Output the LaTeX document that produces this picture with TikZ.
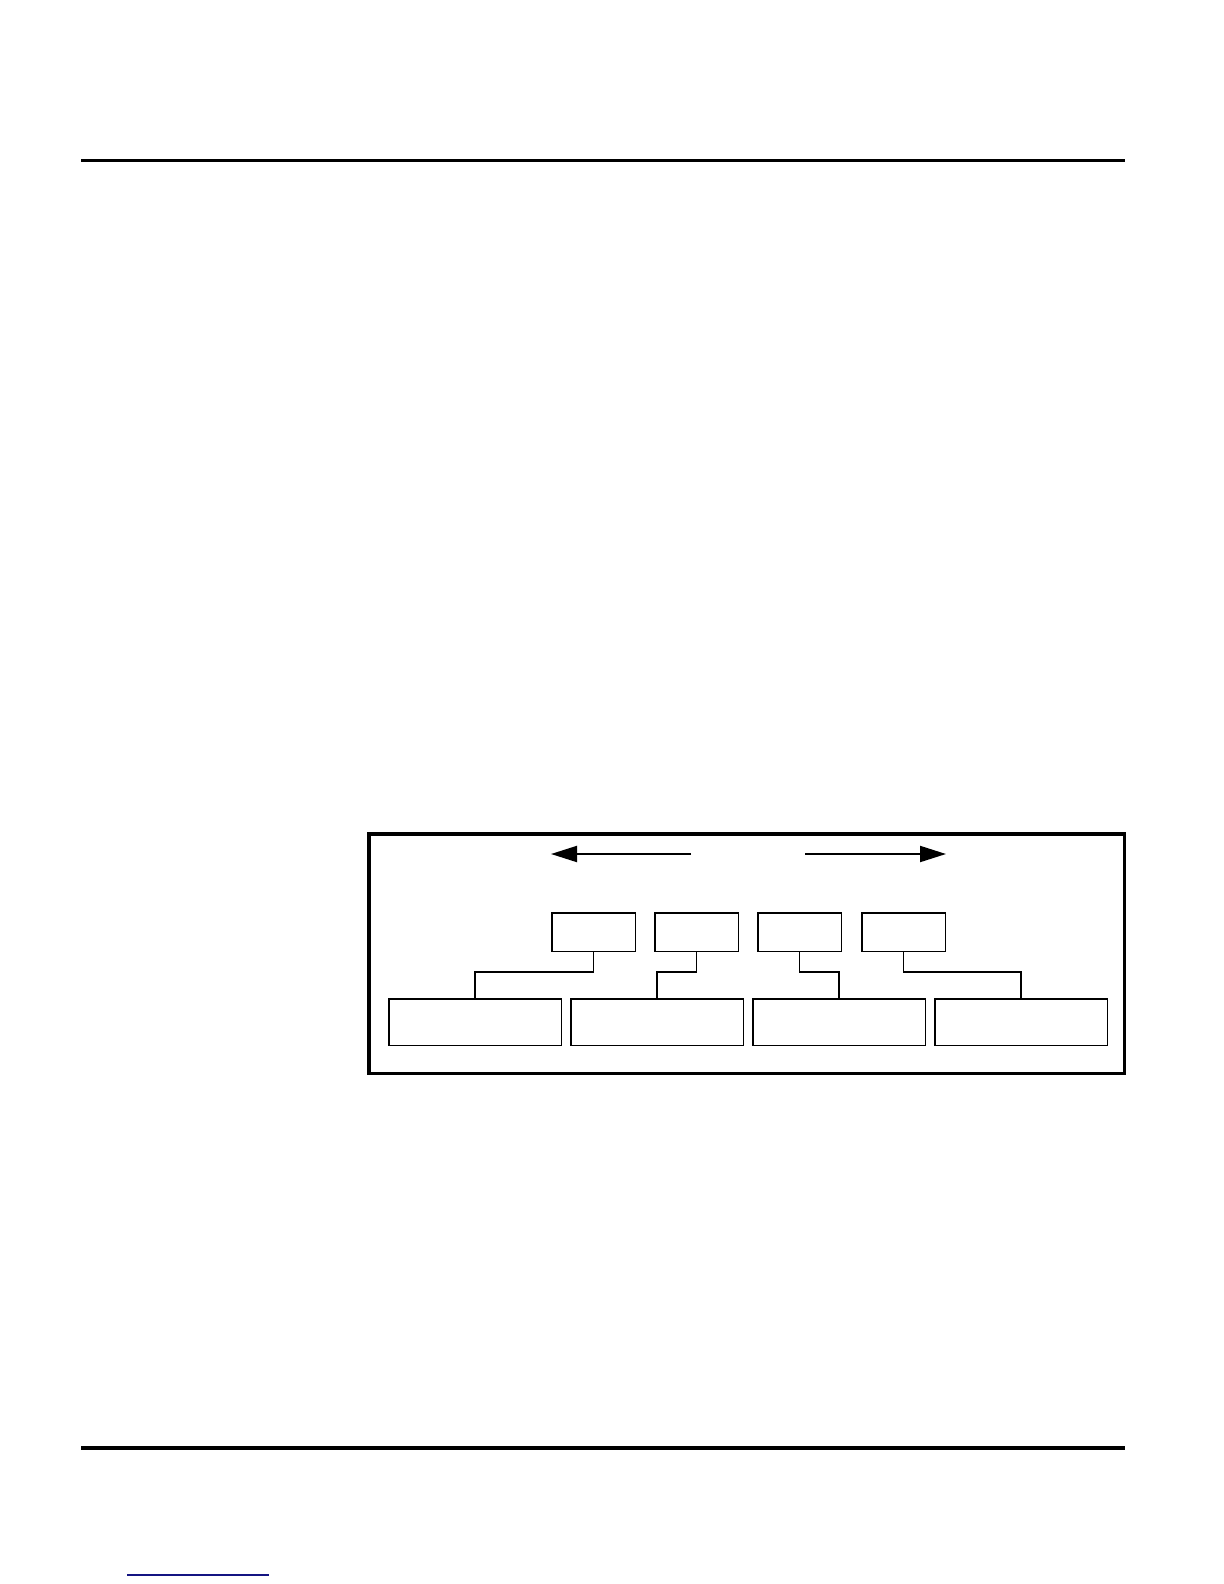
\documentclass[tikz,border=0pt]{standalone}
\usetikzlibrary{arrows.meta}
\definecolor{linknavy}{RGB}{20,20,130}
\tikzset{
  tbox/.style={draw, rectangle, line width=0.75pt, inner sep=0pt, minimum width=41.75pt, minimum height=19.25pt},
  bbox/.style={draw, rectangle, line width=0.75pt, inner sep=0pt, minimum width=86.25pt, minimum height=23.25pt},
  conn/.style={line width=0.6pt},
  dirarrow/.style={line width=1pt, -{Triangle[length=13pt,width=8pt]}},
  rule/.style={line width=1.6pt},
}
\begin{document}
\begin{tikzpicture}[x=0.5pt, y=-0.5pt]
\useasboundingbox (0,0) rectangle (1224,1584);
% page rules
\draw[rule] (81,160.5) -- (1125,160.5);
\draw[rule, line width=2pt] (81,1448) -- (1125,1448);
\draw[linknavy, line width=0.6pt] (127,1575) -- (269,1575);
% frame
\draw[line width=1.75pt] (369,834) rectangle (1124.5,1073.5);
% arrows
\coordinate (la0) at (691,854);
\coordinate (la1) at (551,854);
\coordinate (ra0) at (805,854);
\coordinate (ra1) at (946,854);
\draw[dirarrow] (la0) -- (la1);
\draw[dirarrow] (ra0) -- (ra1);
% top boxes
\node[tbox] (t1) at (593.5,932) {};
\node[tbox] (t2) at (696.5,932) {};
\node[tbox] (t3) at (799.5,932) {};
\node[tbox] (t4) at (903.5,932) {};
% bottom boxes
\node[bbox] (b1) at (475,1022) {};
\node[bbox] (b2) at (657,1022) {};
\node[bbox] (b3) at (839,1022) {};
\node[bbox] (b4) at (1021,1022) {};
% connectors
\draw[conn] (t1.south) -- (t1.south |- 0,972) -| (b1.north);
\draw[conn] (t2.south) -- (t2.south |- 0,972) -| (b2.north);
\draw[conn] (t3.south) -- (t3.south |- 0,972) -| (b3.north);
\draw[conn] (t4.south) -- (t4.south |- 0,972) -| (b4.north);
\end{tikzpicture}
\end{document}
